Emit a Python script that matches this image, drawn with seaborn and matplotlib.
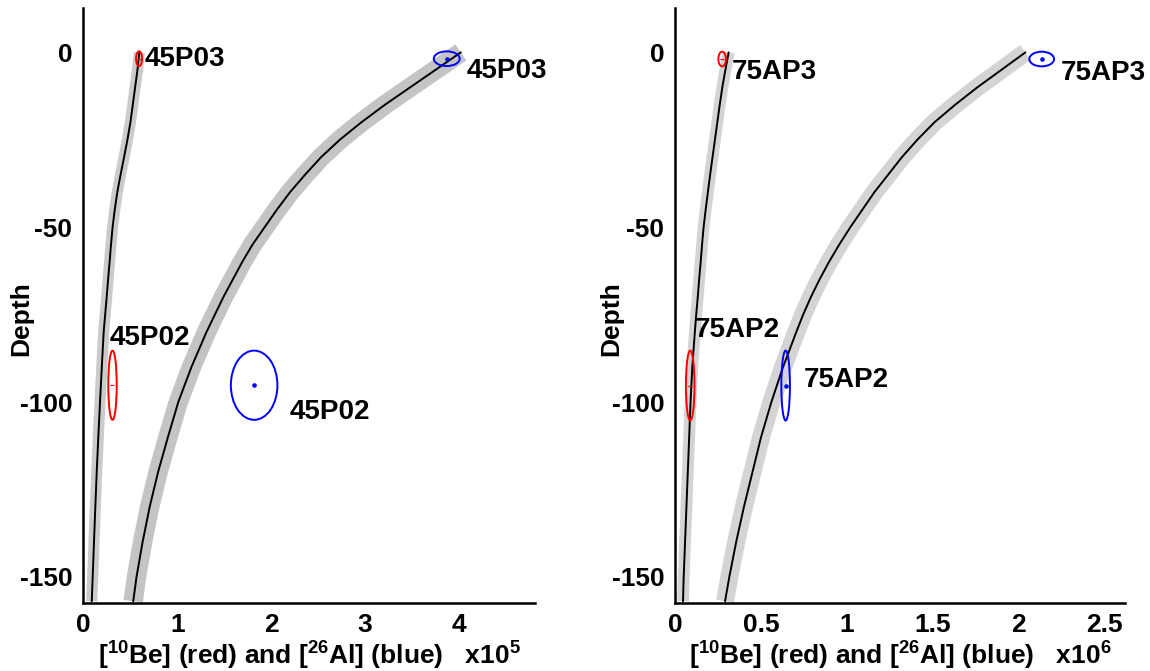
import matplotlib
matplotlib.use("Agg")
import matplotlib.pyplot as plt
from matplotlib.patches import Ellipse
import seaborn as sns

# ---------------- data ----------------
depth = [0, -5, -10, -15, -20, -25, -30, -35, -40, -45, -50, -55, -60, -65, -70,
         -75, -80, -90, -100, -110, -120, -130, -140, -150, -157]

# left panel (x10^5)
be_left = [0.595, 0.575, 0.55, 0.525, 0.50, 0.468, 0.432, 0.395, 0.36, 0.333, 0.31,
           0.293, 0.278, 0.262, 0.247, 0.231, 0.215, 0.195, 0.176, 0.158, 0.141,
           0.126, 0.112, 0.098, 0.088]
al_left = [4.02, 3.75, 3.48, 3.21, 2.96, 2.73, 2.53, 2.36, 2.20, 2.06, 1.93, 1.80,
           1.69, 1.59, 1.49, 1.40, 1.31, 1.15, 1.01, 0.90, 0.795, 0.705, 0.63,
           0.565, 0.53]

# right panel (x10^6)
be_right = [0.311, 0.292, 0.274, 0.259, 0.245, 0.231, 0.217, 0.203, 0.19, 0.177,
            0.165, 0.156, 0.148, 0.139, 0.131, 0.122, 0.114, 0.099, 0.089, 0.081,
            0.073, 0.065, 0.057, 0.049, 0.045]
al_right = [2.04, 1.90, 1.76, 1.63, 1.51, 1.41, 1.32, 1.24, 1.16, 1.09, 1.02, 0.955,
            0.895, 0.84, 0.79, 0.745, 0.705, 0.628, 0.56, 0.50, 0.45, 0.40, 0.355,
            0.315, 0.29]

# samples: name, concentration, conc. error, depth, depth error
left_samples = ["45P03", "45P02"]
left_be_x = [0.592, 0.309]
left_be_err = [0.032, 0.045]
left_al_x = [3.87, 1.818]
left_al_err = [0.138, 0.248]
left_depth = [-1.8, -95.2]
left_depth_err = [2.1, 9.9]

right_samples = ["75AP3", "75AP2"]
right_be_x = [0.273, 0.087]
right_be_err = [0.022, 0.025]
right_al_x = [2.135, 0.643]
right_al_err = [0.072, 0.025]
right_depth = [-1.9, -95.3]
right_depth_err = [2.1, 10.0]

left_xticks = [0, 1, 2, 3, 4]
right_xticks = [0, 0.5, 1, 1.5, 2, 2.5]
right_xticklabels = ["0", "0.5", "1", "1.5", "2", "2.5"]
yticks = [0, -50, -100, -150]
xlabel_left = "[$^{10}$Be] (red) and [$^{26}$Al] (blue)   x10$^{5}$"
xlabel_right = "[$^{10}$Be] (red) and [$^{26}$Al] (blue)   x10$^{6}$"

# ---------------- style ----------------
sns.set_theme(style="white")
plt.rcParams["font.family"] = ["Liberation Sans", "DejaVu Sans"]
plt.rcParams["font.weight"] = "bold"
plt.rcParams["axes.labelweight"] = "bold"
plt.rcParams["text.color"] = "black"
plt.rcParams["axes.labelcolor"] = "black"
plt.rcParams["xtick.color"] = "black"
plt.rcParams["ytick.color"] = "black"
plt.rcParams["mathtext.fontset"] = "custom"
plt.rcParams["mathtext.rm"] = "Liberation Sans:bold"
plt.rcParams["mathtext.bf"] = "Liberation Sans:bold"
plt.rcParams["mathtext.default"] = "bf"

fig = plt.figure(figsize=(11.5, 6.71), dpi=100)
axL = fig.add_axes([0.0726, 0.1013, 0.3926, 0.8873])
axR = fig.add_axes([0.5872, 0.1013, 0.3910, 0.8873])

FS = 19
FS_ANN = 20


def draw_curve(ax, xs, band_color, band_lw):
    sns.lineplot(x=xs, y=depth, sort=False, estimator=None, ax=ax,
                 color=band_color, lw=band_lw, solid_capstyle="butt",
                 solid_joinstyle="round", zorder=1)
    sns.lineplot(x=xs, y=depth, sort=False, estimator=None, ax=ax,
                 color="black", lw=1.4, zorder=2)


def draw_samples(ax, cx, cxe, cy, cye, color, marker):
    for x, xe, y, ye in zip(cx, cxe, cy, cye):
        ax.add_patch(Ellipse((x, y), 2 * xe, 2 * ye, fill=False,
                             edgecolor=color, lw=1.4, zorder=4))
    sns.scatterplot(x=cx, y=cy, ax=ax, color=color, marker=marker, s=6,
                    linewidth=0.8, edgecolor=color, zorder=5, legend=False)


# left panel
draw_curve(axL, be_left, "#cbcbcb", 8)
draw_curve(axL, al_left, "#c4c4c4", 14)
draw_samples(axL, left_be_x, left_be_err, left_depth, left_depth_err, "red", "_")
draw_samples(axL, left_al_x, left_al_err, left_depth, left_depth_err, "blue", "o")

# right panel
draw_curve(axR, be_right, "#d4d4d4", 8.5)
draw_curve(axR, al_right, "#d4d4d4", 13)
draw_samples(axR, right_be_x, right_be_err, right_depth, right_depth_err, "red", "_")
draw_samples(axR, right_al_x, right_al_err, right_depth, right_depth_err, "blue", "o")

# labels
txt = dict(fontsize=FS_ANN, fontweight="bold", va="center", ha="left", zorder=6,
           color="black")
axL.text(0.655, -1.9, left_samples[0], **txt)
axL.text(4.08, -5.3, left_samples[0], **txt)
axL.text(0.275, -81.7, left_samples[1], **txt)
axL.text(2.20, -103.0, left_samples[1], **txt)

axR.text(0.329, -5.7, right_samples[0], **txt)
axR.text(2.244, -5.8, right_samples[0], **txt)
axR.text(0.115, -79.3, right_samples[1], **txt)
axR.text(0.746, -93.6, right_samples[1], **txt)

for ax, xmax, xt, xtl, xl in [
        (axL, 4.81, left_xticks, [str(v) for v in left_xticks], xlabel_left),
        (axR, 2.62, right_xticks, right_xticklabels, xlabel_right)]:
    ax.set_xlim(0, xmax)
    ax.set_ylim(-157.5, 12.8)
    ax.set_xticks(xt)
    ax.set_xticklabels(xtl)
    ax.set_yticks(yticks)
    ax.set_yticklabels([str(v) for v in yticks])
    sns.despine(ax=ax)
    for s in ["left", "bottom"]:
        ax.spines[s].set_linewidth(1.8)
        ax.spines[s].set_color("black")
    ax.tick_params(axis="y", direction="in", length=9, width=1, pad=8,
                   labelsize=FS, colors="black")
    ax.tick_params(axis="x", direction="in", length=6, width=1, pad=7,
                   labelsize=FS, colors="black")
    ax.set_xlabel(xl, fontsize=FS, fontweight="bold", labelpad=2, color="black")
    ax.set_ylabel("Depth", fontsize=FS, fontweight="bold", color="black")
    ax.grid(False)

axL.yaxis.set_label_coords(-0.112, 0.478)
axR.yaxis.set_label_coords(-0.116, 0.478)

fig.savefig("out.png", dpi=100, facecolor="white")
